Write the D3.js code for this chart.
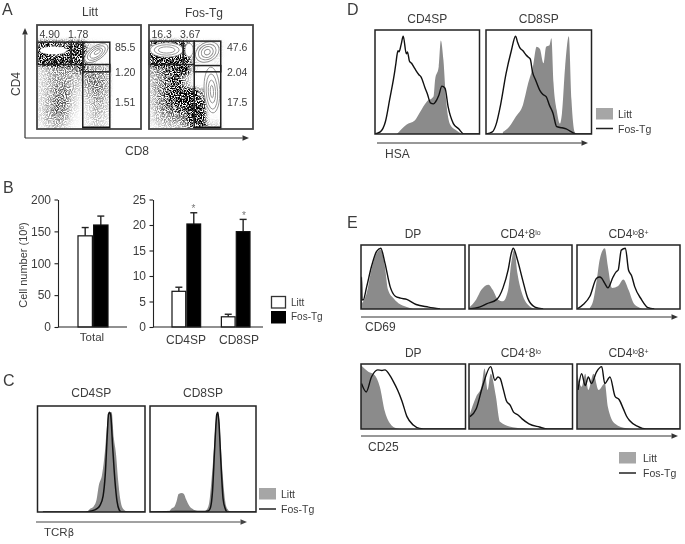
<!DOCTYPE html>
<html><head><meta charset="utf-8">
<script src="https://cdn.jsdelivr.net/npm/d3@7/dist/d3.min.js"></script>
<style>
html,body{margin:0;padding:0;background:#fff}
svg{display:block;filter:blur(0.45px)}
text{font-family:"Liberation Sans",Arial,sans-serif;fill:#3c3c3c}
</style></head><body>
<script>
// ---------- Panel A: density grids (13 x 13) and gate percentages ----------
const litterDensity = [
[0,0,0,0,0,0,0,0,0,0,0,0,0],
[0,0,0,0,0,0,0,0,0,.01,0,0,0],
[.8,.8,.75,.7,.85,.85,.3,.2,.2,.01,0,0,0],
[.95,.7,.6,.7,.95,.95,.3,.1,.1,.01,0,0,0],
[.95,.95,.95,.95,.95,.8,.3,.1,.1,.01,0,0,0],
[.3,.45,.55,.55,.55,.75,.55,.5,.5,.03,0,0,0],
[.3,.42,.5,.5,.45,.35,.6,.6,.5,.03,0,0,0],
[.3,.42,.55,.55,.42,.28,.55,.6,.5,.02,0,0,0],
[.3,.42,.6,.6,.38,.22,.45,.55,.45,.02,0,0,0],
[.3,.46,.65,.6,.32,.14,.35,.5,.4,.02,0,0,0],
[.3,.46,.65,.55,.28,.1,.3,.45,.35,.01,0,0,0],
[.3,.46,.55,.45,.18,.1,.3,.4,.3,.01,0,0,0],
[.2,.36,.45,.32,.14,.05,.25,.35,.25,.01,0,0,0]];
const fosDensity = [
[0,0,0,0,0,0,0,0,0,0,0,0,0],
[0,0,0,0,0,0,0,0,0,.01,0,0,0],
[.85,.85,.85,.85,.75,.3,.3,.3,.3,.05,0,0,0],
[.85,.85,.85,.85,.75,.2,.2,.2,.25,.05,0,0,0],
[.95,.95,.95,1,1,.4,.1,.1,.2,.03,0,0,0],
[.55,.65,.75,.9,1,.3,0,0,.1,.03,0,0,0],
[.45,.55,.7,.9,.45,.05,0,.03,.1,.02,0,0,0],
[.45,.6,.75,.95,.5,.1,.03,.03,.08,.02,0,0,0],
[.4,.6,.8,.95,1,1,.6,0,.05,.03,0,0,0],
[.4,.6,.75,.9,1,1,.8,0,.05,.03,0,0,0],
[.35,.55,.65,.75,.85,1,.9,0,.05,.02,0,0,0],
[.3,.48,.52,.55,.65,1,.9,.1,.1,.02,0,0,0],
[.2,.35,.4,.42,.52,.8,.95,.3,.3,.01,0,0,0]];
const cd4Pct = { litt:["4.90","1.78","85.5","1.20","1.51"], fos:["16.3","3.67","47.6","2.04","17.5"] };
const litterContours = [[15.5,75.5,12.8,3.7,0,1,0],[57,73,13,6.5,-35,1,1],[57,73,10,5,-35,0,1],[57,73,7,3.5,-35,0,1],[58,74,3.5,1.5,-35,0,1]];
const fosContours = [[17,76,16,7,0,1,1],[17,76,12,5,0,0,1],[17,76,8,3,0,0,1],[38.5,76,4,6.5,0,1,1],[56,74,12,9,-30,1,1],[56,74,9,7,-30,0,1],[56,74,6,5,-30,0,1],[56,74,3,2.5,-30,0,1],[60.5,37.5,7.5,22,-3,1,1],[60.5,36,5.5,17,-3,0,1],[60.5,36,3.5,11,-3,0,1],[60.5,36,1.5,6,-3,0,1]];

// ---------- Panel B ----------
const series = ["Litt","Fos-Tg"];
const totalCats = ["Total"], totalMean = [[143],[160]], totalErr = [[13],[14]];
const spCats = ["CD4SP","CD8SP"], spMean = [[7,2],[20.2,18.7]], spErr = [[0.8,0.5],[2.2,2.4]];
const totalTicks = [0,50,100,150,200], spTicks = [0,5,10,15,20,25];

// ---------- Histograms: [x %, height %] ----------
const cCd4Gray = [[44,0],[47,1],[49,3],[52,5],[55,12],[57,25],[60,35],[63,60],[65,85],[67,94],[69,94],[71,70],[73,55],[75,30],[77,12],[79,4],[82,1],[85,0]];
const cCd4Line = [[5,0],[45,0],[50,1],[55,3],[58,6],[61,15],[63,35],[65,75],[66,92],[67,94],[68,92],[70,60],[72,30],[74,10],[76,2],[78,0],[100,0]];
const cCd8Gray = [[18,0],[20,3],[23,5],[25,10],[27,17],[30,18],[32,17],[34,12],[37,6],[40,3],[45,1],[48,1],[52,1],[54,3],[56,10],[58,30],[60,55],[62,85],[63.5,94],[65,90],[67,60],[69,30],[71,10],[73,3],[76,0]];
const cCd8Line = [[0,0],[25,0.5],[35,0.5],[52,0.5],[55,1],[57,4],[59,20],[61,60],[63,92],[64,94],[65,85],[67,45],[69,12],[71,3],[73,0],[100,0]];
const dCd4Gray = [[21,0],[30,9],[38,13],[43,21],[49.5,31],[56,36],[57.5,52],[61,65],[63,90],[65.5,71],[68,33],[72,9],[77,4],[83,0]];
const dCd4Line = [[0,0],[5,2],[10,12],[14,33],[19,61],[20,68],[22,80],[23,79],[25,86],[27,94],[30,77],[31,79],[33,70],[35,68],[38,63],[42,57],[44,55],[48,44],[50,39],[53,30],[56,29],[58,31],[61,37],[64,46],[67,44],[70,26],[75,10],[80,5],[85,0],[100,0]];
const dCd8Gray = [[16,2],[22,7],[28.5,17],[35,28],[40,49],[44.5,65],[48,84],[51,82],[54.5,68],[57,84],[60,85],[62,92],[64,49],[67,23],[70,10],[72,20],[75,65],[78.5,94],[81,33],[84,2],[86,0]];
const dCd8Line = [[0,0],[6,2],[9.5,9],[14,29],[19,58],[24,80],[28,94],[30,88],[32,83],[35,80],[38,76],[40,74],[42,72],[44,60],[47,52],[51,42],[54,38],[57,36],[60,28],[63.5,20],[67,7],[72,6],[76,5],[81,2],[86,0],[100,0]];
const e1DpGray = [[1,9],[5.5,25],[10,61],[15,87],[19,93],[23,66],[26,30],[31,17],[36,9],[44,3],[50,0]];
const e1DpLine = [[0,0],[0.5,50],[1,15],[2,14],[5.5,35],[10,66],[15,90],[19,95],[23,72],[28,35],[33,20],[38,17],[44,15],[53,7],[65,3],[76,0]];
const e1LoGray = [[0,2],[7,15],[12,30],[19,38],[23,30],[28,15],[33,12],[38,30],[41,72],[44,92],[47,56],[52,22],[57,7],[64,0]];
const e1LoLine = [[0,0],[10,3],[17,8],[27,15],[33,33],[38,61],[41,87],[43,95],[47,77],[52,46],[57,17],[64,3],[72,0]];
const e1HiGray = [[12.5,2],[16,15],[19,43],[22,77],[27,95],[30,66],[34,33],[40,36],[45,46],[50,30],[55,9],[59.5,3],[64,0]];
const e1HiLine = [[0,0],[6,7],[12.5,20],[19,48],[22,50],[24,48],[27,40],[30,33],[35,50],[38,58],[40,61],[43,92],[47,95],[50,61],[53,52],[56,35],[62.5,15],[69,2],[75,0]];
const e2DpGray = [[0,98],[7,88],[13,83],[18,65],[23,26],[28,8],[34,1],[39,0]];
const e2DpLine = [[0.5,70],[5,57],[10,80],[16,91],[20,90],[23,91],[27,84],[31,73],[35,60],[39,44],[44,19],[50,6],[56,1],[63,0],[100,0]];
const e2LoGray = [[0,19],[7,50],[12,65],[15,93],[18,60],[21,85],[26,50],[30,11],[39,4],[52,1],[62,0]];
const e2LoLine = [[1,19],[7,31],[13,65],[21,96],[25,75],[28,80],[30,78],[33,62],[36,44],[40,36],[43,26],[47,22],[51,16],[58,8],[68,3],[76,0],[100,0]];
const e2HiGray = [[0,85],[4.5,65],[8,85],[11,60],[16,85],[21,60],[27,70],[30,34],[37,8],[48,1],[55,0]];
const e2HiLine = [[1,60],[4.5,85],[8,67],[11,80],[14,70],[19,88],[24,96],[27,70],[32,80],[37,50],[41,45],[45,31],[48,20],[51,13],[59,4],[67,0],[100,0]];

// ---------- Text ----------
const cTitles = ["CD4SP","CD8SP"], e1Xlabel = "CD69", e2Xlabel = "CD25";

const W = 685, H = 544;
const svg = d3.select("body").append("svg").attr("width",W).attr("height",H);
const defs = svg.append("defs");
const DARK = "#222", GRAY = "#8b8b8b", LEG = "#a6a6a6";

// stipple filter: smooth density field multiplied by fine grain
const f = defs.append("filter").attr("id","grain").attr("filterUnits","userSpaceOnUse")
  .attr("x",0).attr("y",0).attr("width",W).attr("height",H).attr("color-interpolation-filters","sRGB");
f.append("feGaussianBlur").attr("in","SourceGraphic").attr("stdDeviation",2.2).attr("result","b");
f.append("feTurbulence").attr("type","fractalNoise").attr("baseFrequency",0.87).attr("numOctaves",2).attr("seed",7).attr("result","n0");
f.append("feColorMatrix").attr("in","n0").attr("type","matrix")
  .attr("values","0 0 0 0 0 0 0 0 0 0 0 0 0 0 0 0 0 0 3.4 -1.2").attr("result","n");
f.append("feComposite").attr("in","b").attr("in2","n").attr("operator","arithmetic")
  .attr("k1",1.7).attr("k2",0).attr("k3",0).attr("k4",0).attr("result","c");
f.append("feColorMatrix").attr("in","c").attr("type","matrix")
  .attr("values","0 0 0 0 0 0 0 0 0 0 0 0 0 0 0 0 0 0 1 0");

function label(x,y,t,size,anchor){
  return svg.append("text").attr("x",x).attr("y",y).attr("font-size",size)
    .attr("text-anchor",anchor||"start").text(t);
}
function arrow(x1,y1,x2,y2,color){
  const c = color||"#333", a = Math.atan2(y2-y1,x2-x1), s=6.5, w=2.8;
  svg.append("line").attr("x1",x1).attr("y1",y1).attr("x2",x2-Math.cos(a)*s).attr("y2",y2-Math.sin(a)*s)
    .attr("stroke",c).attr("stroke-width",1.2);
  const px=-Math.sin(a), py=Math.cos(a), bx=x2-Math.cos(a)*s, by=y2-Math.sin(a)*s;
  svg.append("path").attr("fill",c)
    .attr("d",d3.line()([[x2,y2],[bx+px*w,by+py*w],[bx-px*w,by-py*w]])+"Z");
}
function legend(x,yR,yL,tx){
  svg.append("rect").attr("x",x).attr("y",yR).attr("width",17).attr("height",11.5).attr("fill",LEG);
  svg.append("line").attr("x1",x).attr("x2",x+17).attr("y1",yL).attr("y2",yL).attr("stroke",DARK).attr("stroke-width",1.5);
  label(tx,yR+10,"Litt",10.5);
  label(tx,yL+4,"Fos-Tg",10.5);
}

// ---------- Panel A ----------
const densityOpacity = d3.scalePow().exponent(1.9).domain([0,1]).range([0,1]);
function flow(x0,x1,y0,y1,dens,contours,gates,pct,lx){
  const x = d3.scaleLinear().domain([0,100]).range([x0,x1]);
  const y = d3.scaleLinear().domain([0,100]).range([y1,y0]);
  const n = 13, cell = (x1-x0)/n;
  const clip = "c"+x0;
  defs.append("clipPath").attr("id",clip).append("rect").attr("x",x0).attr("y",y0).attr("width",x1-x0).attr("height",y1-y0);
  const outer = svg.append("g").attr("clip-path",`url(#${clip})`);
  const g = outer.append("g").attr("filter","url(#grain)");
  g.selectAll("g").data(dens).join("g").selectAll("rect")
    .data((r,i)=>r.map((v,j)=>({v,i,j}))).join("rect")
    .attr("x",d=>x0+d.j*cell).attr("y",d=>y0+d.i*cell)
    .attr("width",cell+.5).attr("height",cell+.5).attr("fill","#000").attr("fill-opacity",d=>densityOpacity(d.v));
  const k = (x1-x0)/100;
  outer.selectAll("ellipse").data(contours).join("ellipse")
    .attr("transform",d=>`translate(${x(d[0])},${y(d[1])}) rotate(${d[4]})`)
    .attr("rx",d=>d[2]*k).attr("ry",d=>d[3]*k)
    .attr("fill","#fff").attr("fill-opacity",d=>d[5])
    .attr("stroke",d=>d[6]?"#8d8d8d":"none").attr("stroke-width",.9);
  // gates
  const gs = svg.append("g").attr("fill","none").attr("stroke","#222").attr("stroke-width",1.5);
  gates.forEach(r=>gs.append("rect").attr("x",x(r[0])).attr("y",y(r[3])).attr("width",x(r[1])-x(r[0])).attr("height",y(r[2])-y(r[3])));
  svg.append("rect").attr("x",x(gates[2][0])).attr("y",y1-2.5).attr("width",x(gates[2][1])-x(gates[2][0])).attr("height",2).attr("fill","#111");
  svg.append("rect").attr("x",x0).attr("y",y0).attr("width",x1-x0).attr("height",y1-y0)
    .attr("fill","none").attr("stroke","#444").attr("stroke-width",1.8);
  label(x0+2.5,38,pct[0],10.5);
  label(x0+31,38,pct[1],10.5);
  label(lx,51,pct[2],10.5); label(lx,76,pct[3],10.5); label(lx,106,pct[4],10.5);
}
const littGates = [[0,33,62,83.5],[33,44,62,83.5],[44,70,0,83.5],[44,70,55,62]];
const fosGates  = [[0,33,62,84.5],[33,43.5,62,84.5],[43.5,69,0,84.5],[43.5,69,55,61]];
flow(37,141,25,129,litterDensity,litterContours,littGates,cd4Pct.litt,115);
flow(149,253,25,129,fosDensity,fosContours,fosGates,cd4Pct.fos,227);
label(90,16,"Litt",12,"middle"); label(204,17,"Fos-Tg",12,"middle");
arrow(25,138,25,28); arrow(25,138,249,138);
svg.append("text").attr("transform","translate(20,84) rotate(-90)").attr("font-size",12).attr("text-anchor","middle").text("CD4");
label(137,155,"CD8",12,"middle");

// ---------- Panel B ----------
function bars(ax,xEnd,yMax,ticks,cats,means,errs,range,inner){
  const y = d3.scaleLinear().domain([0,yMax]).range([327,199.5]);
  const x0 = d3.scaleBand().domain(cats).range(range).paddingInner(inner).paddingOuter(0);
  const x1 = d3.scaleBand().domain(series).range([0,x0.bandwidth()]).paddingInner(.08);
  const g = svg.append("g");
  series.forEach((s,si)=>{
    cats.forEach((c,ci)=>{
      const X = x0(c)+x1(s), v = means[si][ci], e = errs[si][ci], mid = X+x1.bandwidth()/2;
      g.append("path").attr("d",d3.line()([[mid,y(v)],[mid,y(v+e)]])).attr("stroke","#222").attr("stroke-width",1.4);
      g.append("path").attr("d",d3.line()([[mid-3.5,y(v+e)],[mid+3.5,y(v+e)]])).attr("stroke","#222").attr("stroke-width",1.4);
      g.append("rect").attr("x",X).attr("y",y(v)).attr("width",x1.bandwidth()).attr("height",y(0)-y(v))
        .attr("fill",si?"#000":"#fff").attr("stroke","#111").attr("stroke-width",1.2);
    });
  });
  const a = svg.append("g").attr("transform",`translate(${ax},0)`)
    .call(d3.axisLeft(y).tickValues(ticks).tickSize(3.5).tickPadding(3.5).tickSizeOuter(0));
  a.selectAll("text").attr("font-size",12).attr("font-family",'"Liberation Sans"').attr("fill","#3c3c3c");
  a.selectAll("path,line").attr("stroke","#222").attr("stroke-width",1.1);
  svg.append("line").attr("x1",ax).attr("x2",xEnd).attr("y1",327).attr("y2",327).attr("stroke","#222").attr("stroke-width",1.2);
  return {x0,y};
}
const bT = bars(58,127,200,totalTicks,totalCats,totalMean,totalErr,[78,108],0);
const bS = bars(153,263,25,spTicks,spCats,spMean,spErr,[172,250],.42);
label(92,341,"Total",11.5,"middle");
label(186,344,"CD4SP",12,"middle"); label(239,344,"CD8SP",12,"middle");
label(193.5,212,"*",10,"middle").style("fill","#777"); label(244,219,"*",10,"middle").style("fill","#777");
const yt = svg.append("text").attr("transform","translate(27,265) rotate(-90)").attr("font-size",11).attr("text-anchor","middle");
yt.append("tspan").text("Cell number (10");
yt.append("tspan").attr("font-size",6.5).attr("dy",-3.5).text("6");
yt.append("tspan").attr("dy",3.5).text(")");
svg.append("rect").attr("x",271.5).attr("y",296.5).attr("width",14).attr("height",11.5).attr("fill","#fff").attr("stroke","#333").attr("stroke-width",1.3);
svg.append("rect").attr("x",271).attr("y",311).attr("width",15).attr("height",12.5).attr("fill","#000");
label(291,306,"Litt",10); label(291,320,"Fos-Tg",10);

// ---------- Histogram helper ----------
function hist(x0,x1,y0,y1,gray,line,titleParts,titleY,sw){
  const x = d3.scaleLinear().domain([0,100]).range([x0,x1]);
  const y = d3.scaleLinear().domain([0,100]).range([y1,y0]);
  const id = "h"+x0+"_"+y0;
  defs.append("clipPath").attr("id",id).append("rect").attr("x",x0).attr("y",y0).attr("width",x1-x0).attr("height",y1-y0);
  const g = svg.append("g").attr("clip-path",`url(#${id})`);
  g.append("path").attr("fill",GRAY)
    .attr("d",d3.area().curve(d3.curveMonotoneX).x(d=>x(d[0])).y0(y(0)).y1(d=>y(d[1]))(gray));
  g.append("path").attr("fill","none").attr("stroke","#111").attr("stroke-width",sw||1.4)
    .attr("stroke-linejoin","round")
    .attr("d",d3.line().curve(d3.curveMonotoneX).x(d=>x(d[0])).y(d=>y(d[1]))(line));
  svg.append("rect").attr("x",x0).attr("y",y0).attr("width",x1-x0).attr("height",y1-y0)
    .attr("fill","none").attr("stroke","#222").attr("stroke-width",1.5);
  const t = svg.append("text").attr("x",(x0+x1)/2).attr("y",titleY).attr("font-size",12).attr("text-anchor","middle");
  titleParts.forEach(p=>{
    const s = t.append("tspan").text(p[0]);
    if(p[1]) s.attr("font-size",7).attr("dy",-3.5);
    else if(p[2]) s.attr("dy",3.5);
  });
}

// ---------- Panel C ----------
hist(37.5,145,406,512,cCd4Gray,cCd4Line,[[cTitles[0]]],397,1.5);
hist(150,256,406,512,cCd8Gray,cCd8Line,[[cTitles[1]]],397,1.5);
arrow(36,522,247,522,"#444");
const tcr = label(44,536,"TCR",11.5);
tcr.append("tspan").attr("font-family","'DejaVu Sans'").attr("font-size",10).text("β");
legend(259,488,509,281);

// ---------- Panel D ----------
hist(375,479.5,30,134,dCd4Gray,dCd4Line,[[cTitles[0]]],23,1.4);
hist(486,591.5,30,134,dCd8Gray,dCd8Line,[[cTitles[1]]],23,1.4);
arrow(377,143,588,143);
label(385,158,"HSA",12);
legend(596,108,128.5,618);

// ---------- Panel E ----------
const tDp = [["DP"]], tLo = [["CD4"],["+",1],["8",0,1],["lo",1]], tHi = [["CD4"],["lo",1],["8",0,1],["+",1]];
hist(361,465,245,309,e1DpGray,e1DpLine,tDp,238);
hist(469,572,245,309,e1LoGray,e1LoLine,tLo,238);
hist(577,680,245,309,e1HiGray,e1HiLine,tHi,238);
arrow(361,317,678,317);
label(365,331,e1Xlabel,12);
hist(361,465.5,364,429,e2DpGray,e2DpLine,tDp,357);
hist(469,572.5,364,429,e2LoGray,e2LoLine,tLo,357);
hist(577,680,364,429,e2HiGray,e2HiLine,tHi,357);
arrow(361,436,678,436);
label(368,451,e2Xlabel,12);
legend(619,452,473,643);

// ---------- Panel letters ----------
label(2,15,"A",16); label(3,193,"B",16); label(3,386,"C",16); label(347,15,"D",16); label(347,228,"E",16);
</script>
</body></html>
